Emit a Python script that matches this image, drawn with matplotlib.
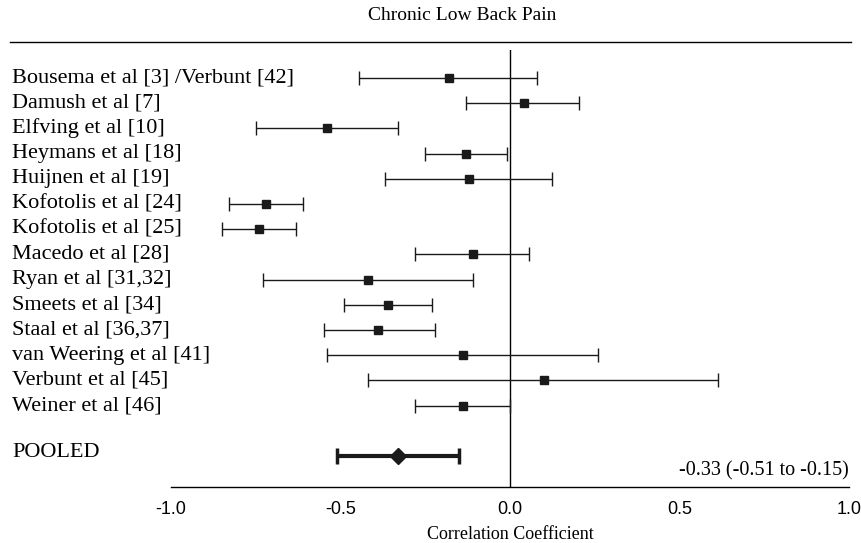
import matplotlib
matplotlib.use("Agg")
import matplotlib.pyplot as plt
from matplotlib.lines import Line2D
from matplotlib.transforms import blended_transform_factory

studies = ["Bousema et al [3] /Verbunt [42]", "Damush et al [7]", "Elfving et al [10]",
           "Heymans et al [18]", "Huijnen et al [19]", "Kofotolis et al [24]",
           "Kofotolis et al [25]", "Macedo et al [28]", "Ryan et al [31,32]",
           "Smeets et al [34]", "Staal et al [36,37]", "van Weering et al [41]",
           "Verbunt et al [45]", "Weiner et al [46]"]
r = [-0.18, 0.04, -0.54, -0.13, -0.12, -0.72, -0.74, -0.11, -0.42, -0.36, -0.39, -0.14, 0.10, -0.14]
lo = [-0.445, -0.13, -0.75, -0.25, -0.37, -0.83, -0.85, -0.28, -0.73, -0.49, -0.55, -0.54, -0.42, -0.28]
hi = [0.08, 0.205, -0.33, -0.01, 0.125, -0.61, -0.63, 0.055, -0.11, -0.23, -0.22, 0.26, 0.615, 0.0]
pooled = -0.33
pooled_lo = -0.51
pooled_hi = -0.15
xticks = [-1.0, -0.5, 0.0, 0.5, 1.0]

serif = "Liberation Serif"
sans = "Liberation Sans"

fig = plt.figure(figsize=(8.61, 5.43), dpi=100)
W, H = 861.0, 543.0
# axes spans x=-1..1 (pixels 171..849), rows from y=50 to y=487
ax = fig.add_axes([171 / W, 1 - 487 / H, (849 - 171) / W, (487 - 50) / H])
ax.set_xlim(-1.0, 1.0)
ax.set_ylim(16.23, -1.11)

rows = list(range(len(studies)))
xerr = [[r[i] - lo[i] for i in rows], [hi[i] - r[i] for i in rows]]
ax.errorbar(r, rows, xerr=xerr, fmt="s", color="#1a1a1a", ms=6, elinewidth=1.0,
            capsize=5, capthick=1.0, zorder=3)

prow = len(studies) + 1
ax.errorbar([pooled], [prow], xerr=[[pooled - pooled_lo], [pooled_hi - pooled]], fmt="D",
            color="#1a1a1a", ms=8, elinewidth=3, capsize=6, capthick=2.5, zorder=3)

ax.axvline(0, color="black", lw=1.0, zorder=1)

for s in ["top", "right", "left"]:
    ax.spines[s].set_visible(False)
ax.spines["bottom"].set_linewidth(1.0)
ax.set_yticks([])
ax.set_xticks(xticks)
ax.set_xticklabels(["%.1f" % t for t in xticks], family=sans, fontsize=13)
ax.tick_params(axis="x", length=0, pad=10)
ax.set_xlabel("Correlation Coefficient", family=serif, fontsize=13, labelpad=6)

lab_tr = blended_transform_factory(fig.transFigure, ax.transData)
for i, name in enumerate(studies):
    ax.text(12 / W, i, name, transform=lab_tr, fontsize=16, family=serif,
            va="center", ha="left")
ax.text(12 / W, prow - 0.15, "POOLED", transform=lab_tr, fontsize=16, family=serif,
        va="center", ha="left")

ax.text(1.0, prow + 0.6, "%.2f (%.2f to %.2f)" % (pooled, pooled_lo, pooled_hi),
        ha="right", va="center", family=serif, fontsize=14.5)

fig.text(462 / W, 1 - 16 / H, "Chronic Low Back Pain", ha="center", va="center",
         family=serif, fontsize=14)
fig.add_artist(Line2D([10 / W, 851 / W], [1 - 42 / H, 1 - 42 / H], color="black", lw=1.0,
                      transform=fig.transFigure))

fig.savefig("out.png", dpi=100)
